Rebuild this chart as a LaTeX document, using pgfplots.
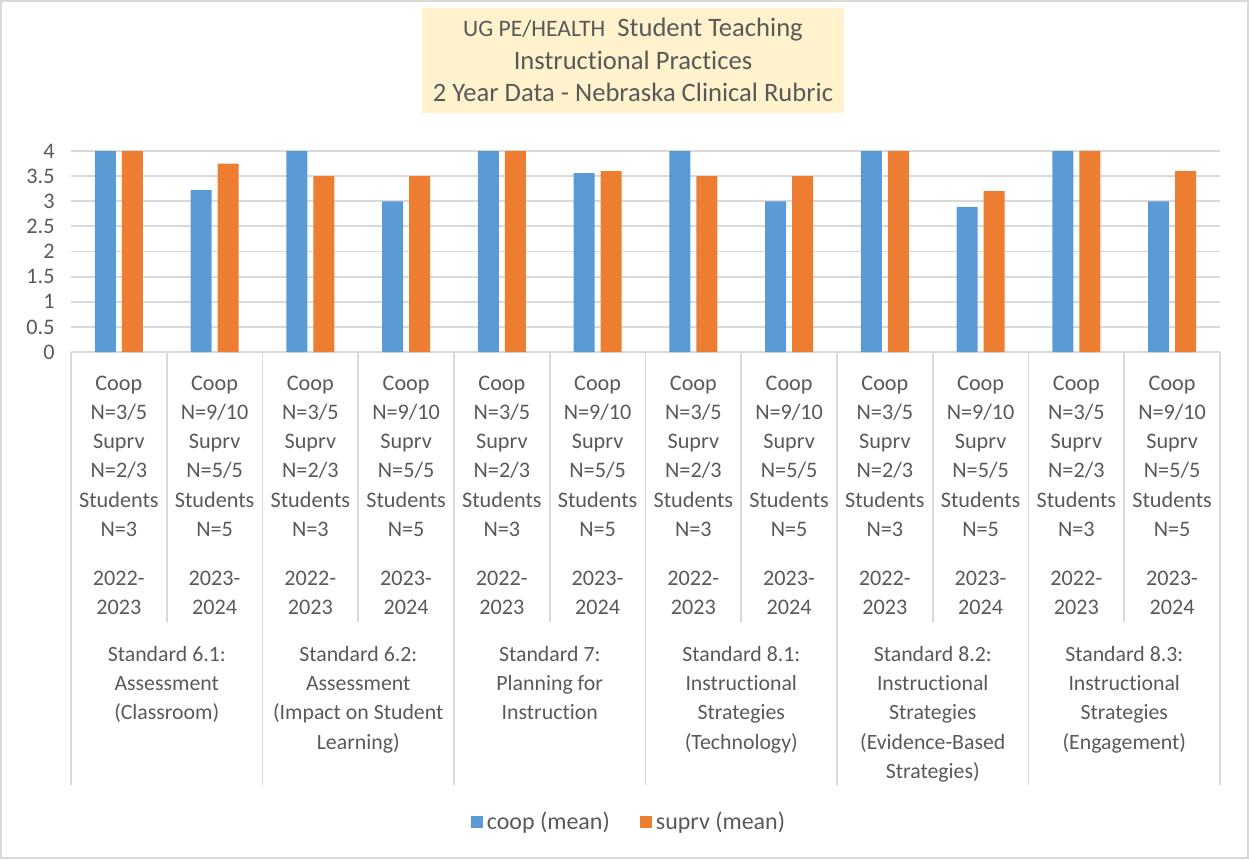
\documentclass[border=0pt]{standalone}
\usepackage{pgfplots}
\pgfplotsset{compat=1.18}
\usepackage{fontspec}
\setmainfont{Carlito}[Ligatures={NoCommon}]
\definecolor{cblue}{HTML}{5B9BD5}
\definecolor{corange}{HTML}{ED7D31}
\definecolor{txt}{HTML}{595959}
\definecolor{grid}{HTML}{D9D9D9}
\definecolor{titlebg}{HTML}{FFF2CC}
\newcommand{\labA}{Coop\\N=3/5\\Suprv\\N=2/3\\Students\\N=3\\[10pt]2022-\\2023}
\newcommand{\labB}{Coop\\N=9/10\\Suprv\\N=5/5\\Students\\N=5\\[10pt]2023-\\2024}
\tikzset{glab/.style={anchor=north, align=center, inner sep=0pt, text=txt, font=\fontsize{10.9}{14.6}\selectfont},
  sep/.style={draw=grid, line width=0.9pt}}
\begin{document}
\begin{tikzpicture}
\begin{axis}[
  scale only axis,
  width=574.5pt, height=100.5pt,
  xmin=-0.5, xmax=11.5, ymin=0, ymax=4,
  ytick={0,0.5,...,4},
  xtick=data,
  xticklabels={{\labA},{\labB},{\labA},{\labB},{\labA},{\labB},{\labA},{\labB},{\labA},{\labB},{\labA},{\labB}},
  ybar, bar width=10.5pt, ybar=3pt,
  clip=false,
  axis lines*=left,
  x axis line style={draw=grid, line width=0.9pt, -},
  y axis line style={draw=none},
  tick style={draw=none},
  ymajorgrids, grid style={draw=grid, line width=0.9pt},
  /pgf/number format/assume math mode=true,
  tick label style={font=\fontsize{11.1}{14.6}\selectfont, text=txt},
  xticklabel style={align=center, anchor=north, inner sep=0pt, yshift=-7.5pt},
  yticklabel style={anchor=east, inner sep=0pt, xshift=-8pt},
  legend style={at={(0.4865,0)}, anchor=center, yshift=-235pt, draw=none, fill=none,
    legend columns=2, font=\fontsize{12}{14}\selectfont, text=txt,
    /tikz/every even column/.append style={column sep=13pt},
    inner sep=0pt},
  legend image code/.code={\fill[#1] (0pt,-3pt) rectangle (6pt,3pt);},
]
\addplot[fill=cblue, draw=none] coordinates {(0,4) (1,3.22) (2,4) (3,3) (4,4) (5,3.56) (6,4) (7,3) (8,4) (9,2.89) (10,4) (11,3)};
\addplot[fill=corange, draw=none] coordinates {(0,4) (1,3.75) (2,3.5) (3,3.5) (4,4) (5,3.6) (6,3.5) (7,3.5) (8,4) (9,3.2) (10,4) (11,3.6)};
\legend{coop (mean), suprv (mean)}
\draw[sep] (axis cs:0.5,0) -- ([yshift=-135pt]axis cs:0.5,0);
\draw[sep] (axis cs:2.5,0) -- ([yshift=-135pt]axis cs:2.5,0);
\draw[sep] (axis cs:4.5,0) -- ([yshift=-135pt]axis cs:4.5,0);
\draw[sep] (axis cs:6.5,0) -- ([yshift=-135pt]axis cs:6.5,0);
\draw[sep] (axis cs:8.5,0) -- ([yshift=-135pt]axis cs:8.5,0);
\draw[sep] (axis cs:10.5,0) -- ([yshift=-135pt]axis cs:10.5,0);
\draw[sep] (axis cs:-0.5,0) -- ([yshift=-216.5pt]axis cs:-0.5,0);
\draw[sep] (axis cs:1.5,0) -- ([yshift=-216.5pt]axis cs:1.5,0);
\draw[sep] (axis cs:3.5,0) -- ([yshift=-216.5pt]axis cs:3.5,0);
\draw[sep] (axis cs:5.5,0) -- ([yshift=-216.5pt]axis cs:5.5,0);
\draw[sep] (axis cs:7.5,0) -- ([yshift=-216.5pt]axis cs:7.5,0);
\draw[sep] (axis cs:9.5,0) -- ([yshift=-216.5pt]axis cs:9.5,0);
\draw[sep] (axis cs:11.5,0) -- ([yshift=-216.5pt]axis cs:11.5,0);
\node[glab] at ([yshift=-147pt]axis cs:0.5,0) {Standard 6.1:\\Assessment\\(Classroom)};
\node[glab] at ([yshift=-147pt]axis cs:2.5,0) {Standard 6.2:\\Assessment\\(Impact on Student\\Learning)};
\node[glab] at ([yshift=-147pt]axis cs:4.5,0) {Standard 7:\\Planning for\\Instruction};
\node[glab] at ([yshift=-147pt]axis cs:6.5,0) {Standard 8.1:\\Instructional\\Strategies\\(Technology)};
\node[glab] at ([yshift=-147pt]axis cs:8.5,0) {Standard 8.2:\\Instructional\\Strategies\\(Evidence-Based\\Strategies)};
\node[glab] at ([yshift=-147pt]axis cs:10.5,0) {Standard 8.3:\\Instructional\\Strategies\\(Engagement)};
\end{axis}
\node[fill=titlebg, minimum width=211pt, minimum height=52.5pt, align=center, text=txt,
  font=\fontsize{13.3}{16.25}\selectfont, inner sep=0pt] at (281pt,146pt)
  {{\fontsize{11.8}{16.25}\selectfont UG PE/HEALTH}\ \ Student Teaching\\Instructional Practices\\2 Year Data - Nebraska Clinical Rubric};
\pgfresetboundingbox
\draw[grid, line width=0.75pt] (-35pt,175.5pt) rectangle (588.5pt,-253pt);
\useasboundingbox (-35.5pt,176pt) rectangle (589pt,-253.5pt);
\end{tikzpicture}
\end{document}
